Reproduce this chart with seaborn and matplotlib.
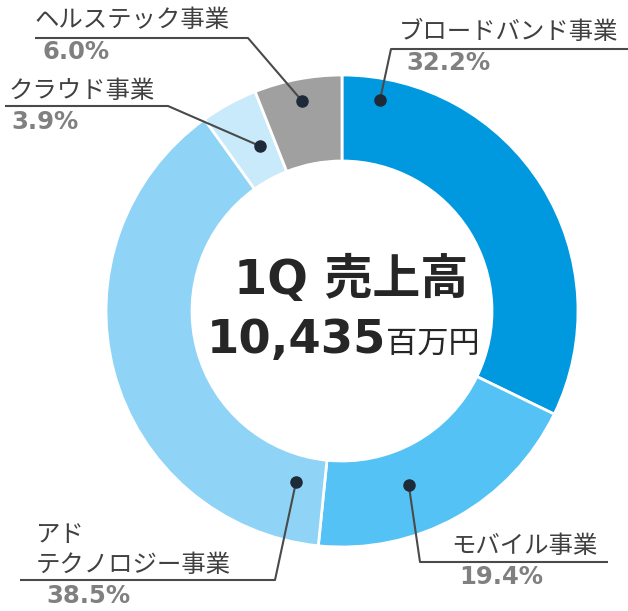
import numpy as np
import matplotlib
matplotlib.use("Agg")
import matplotlib.pyplot as plt
import seaborn as sns

# ---- data ----
segments = ["ブロードバンド事業", "モバイル事業", "アド\nテクノロジー事業", "クラウド事業", "ヘルステック事業"]
shares = [32.2, 19.4, 38.5, 3.9, 6.0]
pct_labels = ["32.2%", "19.4%", "38.5%", "3.9%", "6.0%"]
center_title = "1Q 売上高"
center_value = "10,435"
center_unit = "百万円"

sns.set_theme(style="white")
plt.rcParams['font.family'] = ['Noto Sans CJK JP', 'DejaVu Sans']

colors = ["#0099e0", "#55c2f6", "#8fd4f6", "#c8eafa", "#a0a0a0"]

W, H = 628, 611
fig = plt.figure(figsize=(W / 100, H / 100), dpi=100)
ax = fig.add_axes([0, 0, 1, 1])

def Y(py):
    return H - py

cx, cy, R, ring = 342, Y(311), 236, 86
wedges, _ = ax.pie(shares, colors=colors, startangle=90, counterclock=False,
                   center=(cx, cy), radius=R,
                   wedgeprops=dict(width=ring, edgecolor="white", linewidth=2))
ax.set_xlim(0, W)
ax.set_ylim(0, H)
ax.set_aspect('equal')
ax.axis('off')

# leader dots: position inside each wedge (fraction of span, fraction of radius)
dot_frac = [0.088, 0.617, 0.067, 0.658, 0.5]
dot_rad = [0.907, 0.79, 0.75, 0.78, 0.907]
total = sum(shares)
starts = np.concatenate([[0], np.cumsum(shares)[:-1]]) / total * 360
spans = np.array(shares) / total * 360
dots = []
for s, sp, f, rf in zip(starts, spans, dot_frac, dot_rad):
    th = np.deg2rad(s + f * sp)
    dots.append((cx + R * rf * np.sin(th), cy + R * rf * np.cos(th)))

# label layout (pixel coords): name pos, pct pos, underline (x_far, x_near, y)
layout = [
    dict(name=(399, 32), pct=(406, 63), ul=(628, 391, 49)),
    dict(name=(451, 546), pct=(459, 577), ul=(608, 420, 562)),
    dict(name=(36, 550), pct=(46, 596), ul=(20, 275, 580)),
    dict(name=(9, 91), pct=(11, 122), ul=(5, 168, 106)),
    dict(name=(34, 20), pct=(42, 52), ul=(35, 248, 38)),
]

line_col = "#4a4a4a"
for seg, pct, lay, (dx, dy) in zip(segments, pct_labels, layout, dots):
    nx, ny = lay["name"]
    ax.text(nx, Y(ny), seg, ha="left", va="center", fontsize=17.6,
            color="#404040", linespacing=1.2)
    px, py = lay["pct"]
    ax.text(px, Y(py), pct, ha="left", va="center", fontsize=17.5,
            fontweight="bold", color="#808080",
            family=['DejaVu Sans', 'Noto Sans CJK JP'])
    xf, xn, uy = lay["ul"]
    ax.plot([xf, xn, dx], [Y(uy), Y(uy), dy], color=line_col, lw=1.5,
            solid_capstyle="butt", zorder=4)
    ax.plot([dx], [dy], "o", color="#1e2a38", markersize=8, zorder=5)

ax.text(351, Y(280), center_title, ha="center", va="center", fontsize=34.5,
        fontweight="bold", color="#262626",
        family=['DejaVu Sans', 'Noto Sans CJK JP'])
ax.text(386, Y(353), center_value, ha="right", va="baseline", fontsize=33.5,
        fontweight="bold", color="#262626", family=['DejaVu Sans'])
ax.text(386, Y(353), center_unit, ha="left", va="baseline", fontsize=22.5,
        color="#262626")

fig.savefig("out.png", dpi=100)
